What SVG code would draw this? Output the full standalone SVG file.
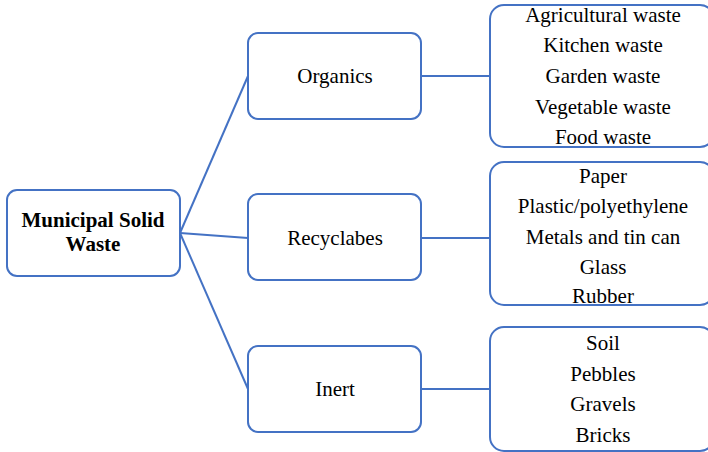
<svg xmlns="http://www.w3.org/2000/svg" width="708" height="452" viewBox="0 0 708 452">
<style>
.box{fill:#fff;stroke:#4472C4;stroke-width:2}
.t{font-family:'Liberation Serif','DejaVu Serif',serif;font-size:21px;fill:#000;text-anchor:middle}
.b{font-weight:bold}
.c{stroke:#4472C4;stroke-width:2;fill:none}
</style>
<rect width="708" height="452" fill="#fff"/>
<g id="connectors">
<line class="c" x1="180" y1="233" x2="248" y2="76"/>
<line class="c" x1="180" y1="233" x2="248" y2="238"/>
<line class="c" x1="180" y1="233" x2="248" y2="389"/>
<line class="c" x1="421" y1="76" x2="490" y2="76"/>
<line class="c" x1="421" y1="238" x2="490" y2="238"/>
<line class="c" x1="421" y1="389" x2="490" y2="389"/>
</g>
<g id="msw">
<rect class="box" x="7" y="190" width="173" height="86" rx="10"/>
<text class="t b" x="93" y="227" font-family="Liberation Serif, serif">Municipal Solid</text>
<text class="t b" x="93" y="251" font-family="Liberation Serif, serif">Waste</text>
</g>
<g id="organics">
<rect class="box" x="248" y="33" width="173" height="86" rx="10"/>
<text class="t" x="335" y="83">Organics</text>
</g>
<g id="recyclabes">
<rect class="box" x="248" y="194" width="173" height="86" rx="10"/>
<text class="t" x="335" y="245">Recyclabes</text>
</g>
<g id="inert">
<rect class="box" x="248" y="346" width="173" height="86" rx="10"/>
<text class="t" x="335" y="396">Inert</text>
</g>
<g id="organics-list">
<rect class="box" x="490" y="5" width="224" height="142" rx="14"/>
<text class="t" x="603" y="22">Agricultural waste</text>
<text class="t" x="603" y="52">Kitchen waste</text>
<text class="t" x="603" y="83">Garden waste</text>
<text class="t" x="603" y="114">Vegetable waste</text>
<text class="t" x="603" y="144">Food waste</text>
</g>
<g id="recyclabes-list">
<rect class="box" x="490" y="162" width="224" height="143" rx="14"/>
<text class="t" x="603" y="183">Paper</text>
<text class="t" x="603" y="213">Plastic/polyethylene</text>
<text class="t" x="603" y="244">Metals and tin can</text>
<text class="t" x="603" y="274">Glass</text>
<text class="t" x="603" y="303">Rubber</text>
</g>
<g id="inert-list">
<rect class="box" x="490" y="327" width="224" height="124" rx="14"/>
<text class="t" x="603" y="350">Soil</text>
<text class="t" x="603" y="381">Pebbles</text>
<text class="t" x="603" y="411">Gravels</text>
<text class="t" x="603" y="442">Bricks</text>
</g>
</svg>
